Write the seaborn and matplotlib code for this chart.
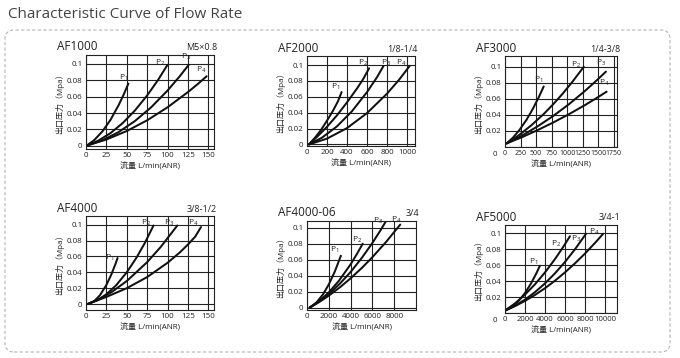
import numpy as np
import pandas as pd
import matplotlib.pyplot as plt
import seaborn as sns
from matplotlib.patches import FancyBboxPatch

sns.set_theme(style="white")
plt.rcParams['font.family'] = ['Open Sans', 'Noto Sans CJK SC', 'DejaVu Sans']

# flow (L/min) and outlet pressure (MPa), P1..P4
af1000_x = [[2, 10, 20, 30, 40, 46, 52],
            [2, 15, 30, 45, 60, 75, 88, 100],
            [2, 20, 40, 60, 80, 100, 115, 126],
            [2, 25, 50, 75, 100, 125, 137, 148]]
af1000_y = [[0.001, 0.0068, 0.0174, 0.0316, 0.0496, 0.0621, 0.076],
            [0.0007, 0.0062, 0.0154, 0.0277, 0.0431, 0.0615, 0.0799, 0.099],
            [0.0005, 0.0066, 0.0167, 0.0302, 0.0471, 0.0675, 0.085, 0.099],
            [0.0005, 0.0076, 0.018, 0.0311, 0.047, 0.0656, 0.0754, 0.085]]
af1000_p = [(46, 0.077), (91, 0.095), (123, 0.103), (141, 0.087)]

af2000_x = [[20, 80, 140, 200, 260, 310, 346],
            [20, 100, 200, 300, 400, 500, 560, 621],
            [20, 150, 300, 450, 600, 700, 765],
            [20, 200, 400, 600, 800, 920, 1027]]
af2000_y = [[0.0, 0.0085, 0.0182, 0.03, 0.0425, 0.0545, 0.066],
            [0.0, 0.0095, 0.0222, 0.0367, 0.053, 0.0705, 0.082, 0.096],
            [0.0, 0.0085, 0.0228, 0.0419, 0.066, 0.0847, 0.099],
            [0.0, 0.0073, 0.0206, 0.0395, 0.064, 0.0814, 0.099]]
af2000_p = [(290, 0.066), (560, 0.096), (790, 0.096), (940, 0.096)]

af3000_x = [[27, 127, 227, 346, 447, 547, 622],
            [27, 227, 427, 627, 771, 927, 1077, 1266],
            [27, 277, 527, 771, 1027, 1277, 1477, 1622],
            [27, 277, 527, 771, 1027, 1277, 1477, 1633]]
af3000_y = [[0.0045, 0.0116, 0.0207, 0.034, 0.0475, 0.0628, 0.0755],
            [0.0045, 0.0149, 0.0273, 0.0415, 0.053, 0.0665, 0.0807, 0.1],
            [0.0045, 0.0144, 0.0259, 0.0385, 0.0533, 0.0694, 0.0833, 0.094],
            [0.0045, 0.0124, 0.0212, 0.0304, 0.0409, 0.0519, 0.0613, 0.069]]
af3000_p = [(540, 0.077), (1150, 0.096), (1540, 0.098), (1600, 0.073)]

af4000_x = [[2, 10, 17, 25, 31, 36, 38.7],
            [2, 14, 25, 37, 50, 62, 72, 82.8],
            [2, 17, 32, 50, 75, 92, 112],
            [2, 25, 50, 75, 100, 115, 125, 134, 141]]
af4000_y = [[0, 0.0036, 0.011, 0.024, 0.0371, 0.0501, 0.058],
            [0, 0.0048, 0.0123, 0.0237, 0.04, 0.0586, 0.0767, 0.099],
            [0, 0.0067, 0.0155, 0.029, 0.0528, 0.0724, 0.099],
            [0, 0.009, 0.02, 0.034, 0.052, 0.065, 0.075, 0.085, 0.097]]
af4000_p = [(29, 0.052), (74, 0.096), (102, 0.096), (131, 0.096)]

af4006_x = [[246, 846, 1446, 2000, 2546, 3108],
            [246, 1146, 2000, 2946, 4000, 4546, 5108],
            [246, 1146, 2000, 3046, 4000, 5046, 6000, 6746, 7323],
            [246, 1146, 2000, 3046, 4000, 5046, 6000, 7246, 8554]]
af4006_y = [[0, 0.0061, 0.0161, 0.029, 0.045, 0.065],
            [0, 0.0084, 0.019, 0.0339, 0.0542, 0.0664, 0.08],
            [0, 0.0079, 0.017, 0.0304, 0.0446, 0.0626, 0.081, 0.0969, 0.11],
            [0, 0.0072, 0.015, 0.0257, 0.0367, 0.0499, 0.0632, 0.0821, 0.104]]
af4006_p = [(2550, 0.066), (4550, 0.079), (6550, 0.102), (8150, 0.104)]

af5000_x = [[0, 700, 1400, 2000, 2600, 3100, 3487],
            [0, 1000, 2000, 3000, 4000, 5000, 5800, 6496],
            [0, 1000, 2000, 3000, 4000, 5000, 6000, 7000, 8100],
            [0, 1000, 2000, 3000, 4000, 5000, 6000, 7000, 8000, 9000, 9812]]
af5000_y = [[0.003, 0.0076, 0.0156, 0.025, 0.0369, 0.0487, 0.059],
            [0.003, 0.012, 0.023, 0.0359, 0.0507, 0.0674, 0.0822, 0.096],
            [0.003, 0.009, 0.0167, 0.0261, 0.037, 0.0496, 0.0638, 0.0797, 0.099],
            [0.003, 0.0086, 0.0151, 0.0226, 0.031, 0.0404, 0.0508, 0.0621, 0.0743, 0.0876, 0.099]]
af5000_p = [(2870, 0.057), (5130, 0.08), (7110, 0.086), (8960, 0.095)]

panels = [
    dict(name="AF1000", port="M5×0.8", xs=af1000_x, ys=af1000_y, ps=af1000_p,
         xticks=[0, 25, 50, 75, 100, 125, 150], xlim=(0, 157), ylim=(-0.004, 0.111),
         box=(86, 55, 214, 149), zero_low=False, xfs=5.8),
    dict(name="AF2000", port="1/8-1/4", xs=af2000_x, ys=af2000_y, ps=af2000_p,
         xticks=[0, 200, 400, 600, 800, 1000], xlim=(0, 1080), ylim=(-0.002, 0.1115),
         box=(307, 56, 415, 146), zero_low=False, xfs=5.8),
    dict(name="AF3000", port="1/4-3/8", xs=af3000_x, ys=af3000_y, ps=af3000_p,
         xticks=[0, 250, 500, 750, 1000, 1250, 1500, 1750], xlim=(0, 1800), ylim=(0, 0.1135),
         box=(505, 56, 617, 147), zero_low=True, xfs=5.0),
    dict(name="AF4000", port="3/8-1/2", xs=af4000_x, ys=af4000_y, ps=af4000_p,
         xticks=[0, 25, 50, 75, 100, 125, 150], xlim=(0, 157), ylim=(-0.0075, 0.111),
         box=(86, 216, 214, 310), zero_low=False, xfs=5.8),
    dict(name="AF4000-06", port="3/4", xs=af4006_x, ys=af4006_y, ps=af4006_p,
         xticks=[0, 2000, 4000, 6000, 8000], xlim=(0, 10000), ylim=(-0.003, 0.1085),
         box=(307, 221, 416, 310), zero_low=False, xfs=5.8),
    dict(name="AF5000", port="3/4-1", xs=af5000_x, ys=af5000_y, ps=af5000_p,
         xticks=[0, 2000, 4000, 6000, 8000, 10000], xlim=(0, 11200), ylim=(0, 0.11),
         box=(505, 225, 617, 313), zero_low=True, xfs=5.6),
]

W, H = 680, 358
fig = plt.figure(figsize=(W / 100, H / 100), dpi=100)
fig.patch.set_facecolor('white')

fig.text(8 / W, 1 - 14 / H, "Characteristic Curve of Flow Rate", fontsize=11,
         color='#444444', va='center', ha='left')
frame = FancyBboxPatch((5 / 100, (H - 352) / 100), 665 / 100, 322 / 100,
                       boxstyle="round,pad=0,rounding_size=0.09",
                       transform=fig.dpi_scale_trans, fill=False,
                       edgecolor='#b5b5b5', linestyle=(0, (3, 2)), linewidth=0.8)
fig.add_artist(frame)

yticks = [0, 0.02, 0.04, 0.06, 0.08, 0.1]
for p in panels:
    l, t, r, b = p['box']
    ax = fig.add_axes([l / W, 1 - b / H, (r - l) / W, (b - t) / H])
    rows = []
    for i, (cx, cy) in enumerate(zip(p['xs'], p['ys'])):
        for xv, yv in zip(cx, cy):
            rows.append((xv, yv, i))
    df = pd.DataFrame(rows, columns=['flow', 'press', 'curve'])
    sns.lineplot(data=df, x='flow', y='press', units='curve', estimator=None,
                 sort=False, color='#111111', linewidth=1.45, ax=ax, legend=False,
                 solid_joinstyle='round')
    for i, (px, py) in enumerate(p['ps']):
        ax.text(px, py, r'$\mathregular{P_%d}$' % (i + 1), fontsize=6,
                color='#222222', ha='center', va='bottom')
    ax.set_xlim(*p['xlim'])
    ax.set_ylim(*p['ylim'])
    ax.set_xticks(p['xticks'])
    ax.set_xticklabels([str(v) for v in p['xticks']], fontsize=p['xfs'])
    ax.set_yticks(yticks)
    ylabels = ['0', '0.02', '0.04', '0.06', '0.08', '0.1']
    if p['zero_low']:
        ylabels[0] = ''
        ax.annotate('0', xy=(0, 0), xycoords='axes fraction', xytext=(-7, -5.5),
                    textcoords='offset points', ha='center', va='center',
                    fontsize=5.8, color='#222222')
    ax.set_yticklabels(ylabels, fontsize=5.8)
    ax.tick_params(length=0, labelcolor='#222222', pad=2.5)
    ax.grid(True, color='#222222', linewidth=0.8)
    for s in ax.spines.values():
        s.set_color('#222222')
        s.set_linewidth(0.8)
    ax.set_xlabel("流量 L/min(ANR)", fontsize=5.8, color='#222222', labelpad=2)
    ax.set_ylabel("出口压力（Mpa）", fontsize=5.8, color='#222222', labelpad=2)
    fig.text((l - 29) / W, 1 - (t - 8) / H, p['name'], fontsize=8.5, color='#222222',
             ha='left', va='center')
    fig.text((r + 3) / W, 1 - (t - 7) / H, p['port'], fontsize=6.5, color='#222222',
             ha='right', va='center')

fig.savefig('out.png', dpi=100, facecolor='white')
